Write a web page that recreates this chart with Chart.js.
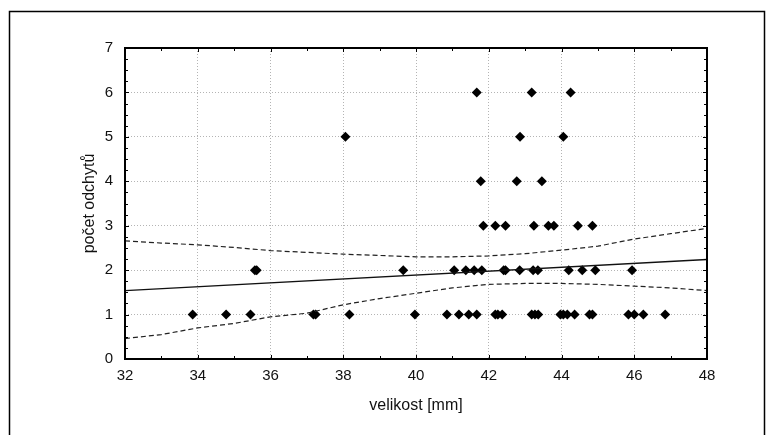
<!DOCTYPE html>
<html>
<head>
<meta charset="utf-8">
<script src="https://cdn.jsdelivr.net/npm/chart.js@4/dist/chart.umd.min.js"></script>
<style>
  html, body { margin: 0; padding: 0; background: #fff; }
  canvas { display: block; }
</style>
</head>
<body>
<canvas id="chart" width="773" height="435"></canvas>
<script>
// velikost [mm] of each catch, grouped by počet odchytů
const sizeAt1 = [33.86, 34.78, 35.45, 37.18, 37.24, 38.17, 39.97, 40.85, 41.18, 41.45, 41.67,
                 42.18, 42.25, 42.37, 43.18, 43.27, 43.36, 43.97, 44.05, 44.16, 44.36,
                 44.77, 44.85, 45.84, 46.0, 46.25, 46.85];
const sizeAt2 = [35.57, 35.62, 39.65, 41.05, 41.37, 41.6, 41.81, 42.41, 42.46, 42.85,
                 43.22, 43.35, 44.2, 44.57, 44.93, 45.94];
const sizeAt3 = [41.85, 42.18, 42.46, 43.24, 43.64, 43.79, 44.45, 44.85];
const sizeAt4 = [41.78, 42.77, 43.46];
const sizeAt5 = [38.06, 42.86, 44.05];
const sizeAt6 = [41.67, 43.18, 44.25];

// regression line and confidence band
const fitX = [32, 48];
const fitY = [1.54, 2.24];
const bandX = [32, 33, 34, 35, 36, 37, 38, 39, 40, 41, 42, 43, 44, 45, 46, 47, 48];
const bandUpper = [2.66, 2.61, 2.57, 2.51, 2.44, 2.40, 2.36, 2.33, 2.30, 2.30, 2.32, 2.37, 2.45, 2.54, 2.70, 2.82, 2.94];
const bandLower = [0.46, 0.55, 0.70, 0.80, 0.95, 1.03, 1.22, 1.36, 1.48, 1.60, 1.68, 1.70, 1.70, 1.68, 1.64, 1.60, 1.54];

const xTicks = [32, 34, 36, 38, 40, 42, 44, 46, 48];
const yTicks = [0, 1, 2, 3, 4, 5, 6, 7];

const points = [sizeAt1, sizeAt2, sizeAt3, sizeAt4, sizeAt5, sizeAt6]
    .flatMap((sizes, i) => sizes.map(x => ({ x, y: i + 1 })));
const zip = (xs, ys) => xs.map((x, i) => ({ x, y: ys[i] }));

const textColor = '#111';
const tickFont = { family: "'Liberation Sans', Arial, sans-serif", size: 15 };
const titleFont = { family: "'Liberation Sans', Arial, sans-serif", size: 16 };

const framePlugin = {
    id: 'frame',
    beforeDraw(chart) {
        const { ctx, width, height } = chart;
        ctx.save();
        ctx.fillStyle = '#fff';
        ctx.fillRect(0, 0, width, height);
        ctx.restore();
    },
    afterDraw(chart) {
        const { ctx, chartArea: a, scales: { x, y } } = chart;
        ctx.save();
        ctx.strokeStyle = '#000';

        // outer figure frame
        ctx.lineWidth = 1.5;
        ctx.beginPath();
        ctx.moveTo(9.5, 435);
        ctx.lineTo(9.5, 11.5);
        ctx.lineTo(764.5, 11.5);
        ctx.lineTo(764.5, 435);
        ctx.stroke();

        // inward tick marks on all four sides
        ctx.lineWidth = 1;
        ctx.beginPath();
        for (let v = x.min; v <= x.max; v += 1) {
            const px = Math.round(x.getPixelForValue(v)) + 0.5;
            const len = v % 2 === 0 ? 4 : 3;
            ctx.moveTo(px, a.bottom); ctx.lineTo(px, a.bottom - len);
            ctx.moveTo(px, a.top); ctx.lineTo(px, a.top + len);
        }
        for (let v = y.min; v <= y.max; v += 0.25) {
            const py = Math.round(y.getPixelForValue(v)) + 0.5;
            const len = v % 1 === 0 ? 4 : 3;
            ctx.moveTo(a.left, py); ctx.lineTo(a.left + len, py);
            ctx.moveTo(a.right, py); ctx.lineTo(a.right - len, py);
        }
        ctx.stroke();

        // plot frame
        ctx.lineWidth = 2;
        ctx.strokeRect(a.left, a.top, a.right - a.left, a.bottom - a.top);
        ctx.restore();
    }
};

new Chart(document.getElementById('chart').getContext('2d'), {
    type: 'scatter',
    data: {
        datasets: [
            {
                label: 'fit',
                data: zip(fitX, fitY),
                showLine: true,
                borderColor: '#111',
                borderWidth: 1.3,
                pointRadius: 0
            },
            {
                label: 'upper',
                data: zip(bandX, bandUpper),
                showLine: true,
                borderColor: '#222',
                borderWidth: 1.2,
                borderDash: [5, 3],
                pointRadius: 0
            },
            {
                label: 'lower',
                data: zip(bandX, bandLower),
                showLine: true,
                borderColor: '#222',
                borderWidth: 1.2,
                borderDash: [5, 3],
                pointRadius: 0
            },
            {
                label: 'catches',
                data: points,
                pointStyle: 'rectRot',
                pointRadius: 5,
                backgroundColor: '#000',
                borderColor: '#000',
                borderWidth: 0
            }
        ]
    },
    options: {
        responsive: false,
        animation: false,
        devicePixelRatio: 1,
        layout: { padding: { left: 76, right: 66, top: 48, bottom: 16 } },
        plugins: {
            legend: { display: false },
            tooltip: { enabled: false }
        },
        scales: {
            x: {
                type: 'linear',
                min: 32,
                max: 48,
                afterBuildTicks: scale => { scale.ticks = xTicks.map(value => ({ value })); },
                afterFit: scale => { scale.height = 60; },
                ticks: { color: textColor, font: tickFont, padding: 8 },
                grid: { color: '#b4b4b4', lineWidth: 1, drawTicks: false },
                border: { display: false, dash: [1, 2] },
                title: { display: true, text: 'velikost [mm]', color: textColor, font: titleFont }
            },
            y: {
                type: 'linear',
                min: 0,
                max: 7,
                afterBuildTicks: scale => { scale.ticks = yTicks.map(value => ({ value })); },
                afterFit: scale => { scale.width = 49; },
                ticks: { color: textColor, font: tickFont, padding: 12 },
                grid: { color: '#b4b4b4', lineWidth: 1, drawTicks: false },
                border: { display: false, dash: [1, 2] },
                title: { display: true, text: 'počet odchytů', color: textColor, font: titleFont }
            }
        }
    },
    plugins: [framePlugin]
});
</script>
</body>
</html>
